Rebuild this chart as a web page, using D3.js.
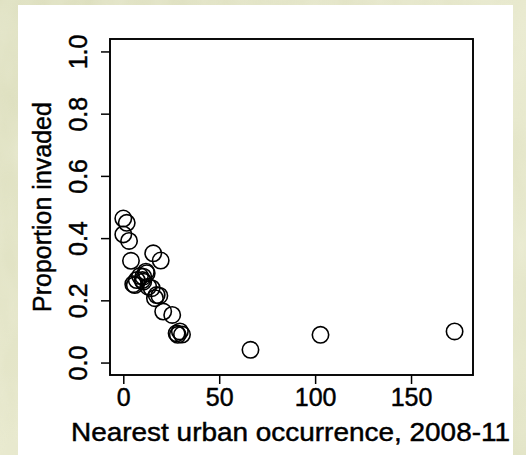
<!DOCTYPE html>
<html><head><meta charset="utf-8">
<script src="https://cdn.jsdelivr.net/npm/d3@7"></script>
<style>html,body{margin:0;padding:0;background:#e6e6cb;}svg{display:block;}</style>
</head><body>
<script>
// Data: nearest urban occurrence (x) vs proportion invaded (y)
const xValues = [0, 1.8, 0, 3, 4, 15.6, 19.5, 11.8, 8.7, 10.4, 5.2, 6, 7, 10, 12.2, 10.4, 13, 14.8, 16.5, 18.8, 17.4, 20.8, 25.5, 27.8, 29.5, 30.6, 28.4, 66.3, 102.8, 172.7];
const yValues = [0.463, 0.449, 0.412, 0.391, 0.327, 0.351, 0.328, 0.292, 0.278, 0.276, 0.252, 0.249, 0.265, 0.265, 0.287, 0.26, 0.244, 0.239, 0.207, 0.215, 0.217, 0.164, 0.153, 0.094, 0.1, 0.09, 0.089, 0.041, 0.089, 0.1];
const xTicks = [0, 50, 100, 150];
const yTicks = [0.0, 0.2, 0.4, 0.6, 0.8, 1.0];
const xLabel = "Nearest urban occurrence, 2008-11";
const yLabel = "Proportion invaded";

const W = 526, H = 455;
const svg = d3.select("body").append("svg").attr("width", W).attr("height", H);

// textured background
const defs = svg.append("defs");
const f = defs.append("filter").attr("id", "tex").attr("x", 0).attr("y", 0).attr("width", "100%").attr("height", "100%");
f.append("feTurbulence").attr("type", "fractalNoise").attr("baseFrequency", "0.03 0.012").attr("numOctaves", 3).attr("seed", 4).attr("result", "n");
f.append("feColorMatrix").attr("in", "n").attr("type", "matrix")
  .attr("values", "0 0 0 0 1  0 0 0 0 1  0 0 0 0 0.92  0.6 0 0 0 -0.15");
const g1 = defs.append("linearGradient").attr("id", "bg").attr("x1", 0).attr("y1", 0).attr("x2", 1).attr("y2", 1);
g1.append("stop").attr("offset", 0).attr("stop-color", "#dcdebd");
g1.append("stop").attr("offset", 0.5).attr("stop-color", "#e6e7cb");
g1.append("stop").attr("offset", 1).attr("stop-color", "#e2e4c6");
svg.append("rect").attr("width", W).attr("height", H).attr("fill", "url(#bg)");
svg.append("rect").attr("width", W).attr("height", H).attr("filter", "url(#tex)").attr("opacity", 0.6);

// white panel
svg.append("rect").attr("x", 18).attr("y", 5).attr("width", 495).attr("height", 450).attr("fill", "#ffffff");

const L = 110, R = 473, T = 39, B = 375;
const x = d3.scaleLinear().domain([-6.93, 182.3]).range([L, R]);
const y = d3.scaleLinear().domain([-0.04, 1.04]).range([B, T]);

const font = "'Liberation Sans', Arial, sans-serif";
const textStroke = g => g.attr("stroke", "#000").attr("stroke-width", 0.45);

// x axis
const xAxis = d3.axisBottom(x).tickValues(xTicks).tickSize(9).tickPadding(4).tickFormat(d3.format("d"));
const gx = svg.append("g").attr("transform", `translate(0,${B})`).call(xAxis);
gx.select(".domain").remove();
gx.selectAll(".tick line").attr("stroke", "#000").attr("stroke-width", 1.5);
gx.selectAll(".tick text").attr("font-family", font).attr("font-size", 25).attr("fill", "#000")
  .attr("dy", null).attr("y", 31).call(textStroke);

// y axis
const yAxis = d3.axisLeft(y).tickValues(yTicks).tickSize(9).tickFormat(d3.format(".1f"));
const gy = svg.append("g").attr("transform", `translate(${L},0)`).call(yAxis);
gy.select(".domain").remove();
gy.selectAll(".tick line").attr("stroke", "#000").attr("stroke-width", 1.5);
gy.selectAll(".tick text").attr("font-family", font).attr("font-size", 25).attr("fill", "#000")
  .attr("x", null).attr("dy", null)
  .attr("text-anchor", "middle")
  .attr("transform", "translate(-23,0) rotate(-90)").call(textStroke);

// box
svg.append("rect").attr("x", L).attr("y", T).attr("width", R - L).attr("height", B - T)
  .attr("fill", "none").attr("stroke", "#000").attr("stroke-width", 1.9);

// points
svg.append("g").selectAll("circle").data(xValues.map((v, i) => [v, yValues[i]])).join("circle")
  .attr("cx", d => x(d[0])).attr("cy", d => y(d[1])).attr("r", 8.2)
  .attr("fill", "none").attr("stroke", "#000").attr("stroke-width", 1.6);

// axis titles
svg.append("text").attr("x", 71).attr("y", 441).attr("font-family", font).attr("font-size", 25)
  .attr("textLength", 439).attr("lengthAdjust", "spacingAndGlyphs").attr("fill", "#000").call(textStroke).text(xLabel);
svg.append("text").attr("transform", `translate(51,${(T + B) / 2}) rotate(-90)`)
  .attr("text-anchor", "middle").attr("font-family", font).attr("font-size", 25).attr("fill", "#000").call(textStroke).text(yLabel);
</script>
</body></html>
